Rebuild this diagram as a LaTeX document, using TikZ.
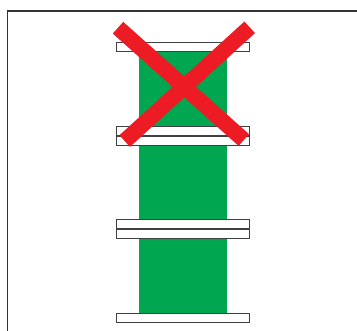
\documentclass[tikz,border=0pt]{standalone}
\usepackage{tikz}
\usetikzlibrary{positioning}
\definecolor{stackgreen}{HTML}{00A650}
\definecolor{crossred}{HTML}{ED1C24}

\begin{document}
\begin{tikzpicture}[x=0.03cm, y=-0.03cm,
    plate/.style={rectangle, draw=black!75, fill=white, line width=0.8pt,
                  minimum width=3.97cm, minimum height=0.28cm, inner sep=0pt},
    column/.style={rectangle, fill=stackgreen, minimum width=2.64cm,
                   minimum height=7.84cm, inner sep=0pt},
    cross/.style={crossred, line width=0.47cm}
  ]
  \clip (0,0) rectangle (357,331);

  % Frame (right and bottom edges fall outside)
  \draw[black!80, line width=1.1pt] (7.5,11) rectangle (400,400);

  % Green column behind the plates
  \node[column] (stack) at (183,182.4) {};

  % Plates
  \node[plate] (plate_top) at (183,47.2) {};
  \node[plate] (plate_a1) at (183,131.0) {};
  \node[plate] (plate_a2) at (183,140.7) {};
  \node[plate] (plate_b1) at (183,224.0) {};
  \node[plate] (plate_b2) at (183,233.7) {};
  \node[plate] (plate_bot) at (183,317.7) {};

  % Red cross
  \coordinate (x_tl) at (118,27.7);
  \coordinate (x_br) at (243.8,140);
  \coordinate (x_tr) at (249.7,27.3);
  \coordinate (x_bl) at (124.7,141);
  \draw[cross] (x_tl) -- (x_br);
  \draw[cross] (x_tr) -- (x_bl);

\end{tikzpicture}
\end{document}
